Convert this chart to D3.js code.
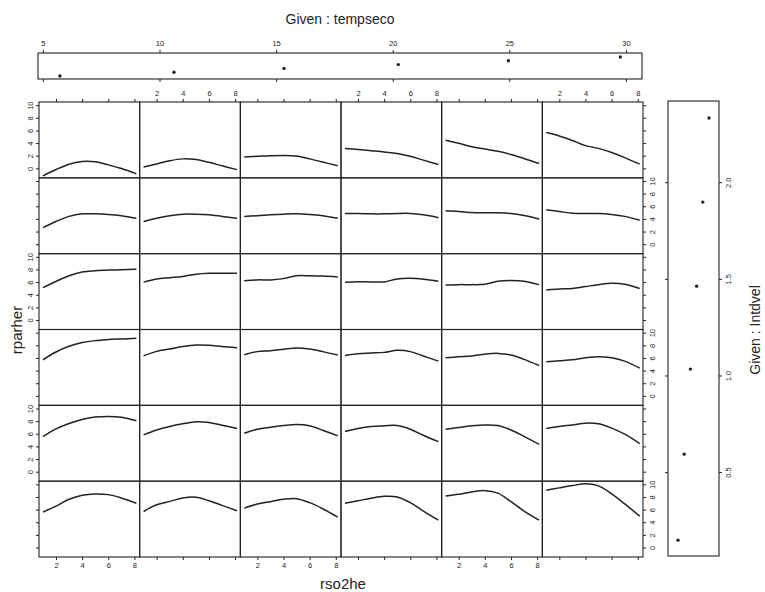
<!DOCTYPE html>
<html>
<head>
<meta charset="utf-8">
<script src="https://cdn.jsdelivr.net/npm/d3@7"></script>
<style>
  body { margin: 0; background: #fff; }
  text { font-family: "Liberation Sans", Arial, sans-serif; fill: #222; }
</style>
</head>
<body>
<div id="chart"></div>
<script>
// x positions (rso2he) where each smooth curve was read
var xSamples = [1, 2, 3, 4, 5, 6, 7, 8.15];

// given intervals (centres)
var tempseco = [5.73, 10.62, 15.34, 20.24, 24.96, 29.76];
var intdvel = [0.148, 0.593, 1.033, 1.462, 1.897, 2.332];

// rparher curves, one row per Intdvel level (top row = highest), columns = tempseco low -> high
var row1 = [
  [-1.2, -0.19, 0.66, 1.08, 1.03, 0.55, -0.03, -0.88],
  [0.2, 0.7, 1.2, 1.5, 1.4, 0.95, 0.4, -0.2],
  [1.8, 1.9, 2.0, 2.05, 1.95, 1.5, 1.0, 0.4],
  [3.16, 3.0, 2.8, 2.6, 2.35, 1.9, 1.3, 0.6],
  [4.44, 3.96, 3.43, 3.05, 2.7, 2.2, 1.56, 0.77],
  [5.66, 5.13, 4.4, 3.6, 3.16, 2.5, 1.7, 0.66]
];
var row2 = [
  [2.63, 3.6, 4.4, 4.8, 4.8, 4.7, 4.5, 4.1],
  [3.6, 4.1, 4.5, 4.75, 4.75, 4.65, 4.4, 4.1],
  [4.4, 4.5, 4.65, 4.75, 4.8, 4.7, 4.5, 4.1],
  [4.86, 4.86, 4.8, 4.8, 4.86, 4.86, 4.65, 4.2],
  [5.29, 5.18, 5.0, 4.97, 4.97, 4.86, 4.54, 4.0],
  [5.45, 5.18, 4.9, 4.86, 4.86, 4.7, 4.4, 3.8]
];
var row3 = [
  [5.13, 6.1, 7.0, 7.6, 7.8, 7.9, 7.95, 8.05],
  [6.0, 6.5, 6.7, 6.9, 7.25, 7.4, 7.4, 7.4],
  [6.2, 6.35, 6.35, 6.55, 7.0, 7.0, 6.95, 6.8],
  [5.98, 6.05, 6.03, 6.03, 6.5, 6.6, 6.46, 6.14],
  [5.55, 5.6, 5.6, 5.66, 6.14, 6.25, 6.14, 5.6],
  [4.76, 4.9, 5.0, 5.3, 5.6, 5.8, 5.66, 5.0]
];
var row4 = [
  [5.7, 6.94, 7.84, 8.43, 8.74, 8.9, 9.0, 9.1],
  [6.35, 7.04, 7.4, 7.8, 8.05, 8.0, 7.8, 7.6],
  [6.5, 7.0, 7.15, 7.36, 7.57, 7.4, 7.0, 6.46],
  [6.4, 6.67, 6.78, 6.88, 7.2, 7.0, 6.3, 5.5],
  [6.03, 6.2, 6.3, 6.6, 6.72, 6.46, 5.77, 4.8],
  [5.4, 5.55, 5.7, 6.03, 6.2, 6.03, 5.5, 4.38]
];
var row5 = [
  [5.55, 6.78, 7.63, 8.27, 8.64, 8.74, 8.6, 8.05],
  [5.82, 6.6, 7.15, 7.57, 7.9, 7.8, 7.36, 6.83],
  [6.08, 6.72, 7.04, 7.3, 7.47, 7.26, 6.56, 5.66],
  [6.35, 6.83, 7.15, 7.26, 7.3, 6.72, 5.77, 4.75],
  [6.7, 7.0, 7.26, 7.4, 7.3, 6.6, 5.6, 4.33],
  [6.83, 7.15, 7.4, 7.68, 7.57, 6.9, 5.93, 4.44]
];
var row6 = [
  [5.6, 6.56, 7.63, 8.27, 8.48, 8.37, 7.84, 7.0],
  [5.7, 6.78, 7.3, 7.84, 7.95, 7.4, 6.67, 5.82],
  [6.24, 6.88, 7.26, 7.63, 7.73, 7.1, 6.14, 4.8],
  [7.0, 7.4, 7.8, 8.1, 8.0, 7.1, 5.77, 4.33],
  [8.16, 8.43, 8.8, 9.0, 8.6, 7.26, 5.77, 4.33],
  [9.06, 9.44, 9.8, 10.1, 9.76, 8.5, 6.9, 4.97]
];

var xTicks = [2, 4, 6, 8];
var yTicks = [0, 2, 4, 6, 8, 10];
var tempTicks = [5, 10, 15, 20, 25, 30];
var velTicks = [0.5, 1.0, 1.5, 2.0];

var rows = [row1, row2, row3, row4, row5, row6];

var svg = d3.select("#chart").append("svg")
  .attr("width", 765)
  .attr("height", 592);

// grid of panels
var gridX = d3.scaleBand().domain(d3.range(6)).range([39, 643]);
var gridY = d3.scaleBand().domain(d3.range(6)).range([102, 557]);

var x = d3.scaleLinear().domain([0.7, 8.4]).range([0, gridX.bandwidth()]);
var y = d3.scaleLinear().domain([-1.5, 10.5]).range([gridY.bandwidth(), 0]);

var line = d3.line()
  .x((d, i) => x(xSamples[i]))
  .y(d => y(d))
  .curve(d3.curveCatmullRom.alpha(0.5));

function styleAxis(g) {
  g.select(".domain").remove();
  g.selectAll("line").attr("stroke", "#222");
  g.selectAll("text")
    .attr("fill", "#333")
    .style("font-size", "7.5px")
    .style("font-family", "'Liberation Sans', Arial, sans-serif");
}

// rotate y tick labels so they run along the axis
function rotateLabels(g, side) {
  g.selectAll("text")
    .attr("transform", "rotate(-90)")
    .attr("text-anchor", "middle")
    .attr("x", 0)
    .attr("dy", 0)
    .attr("y", side == "left" ? -6 : 12);
}

rows.forEach(function(row, r) {
  row.forEach(function(vals, c) {
    var panel = svg.append("g")
      .attr("transform", `translate(${gridX(c)}, ${gridY(r)})`);

    panel.append("rect")
      .attr("width", gridX.bandwidth())
      .attr("height", gridY.bandwidth())
      .attr("fill", "none")
      .attr("stroke", "#222")
      .attr("stroke-width", 1.1);

    panel.append("path")
      .datum(vals)
      .attr("d", line)
      .attr("fill", "none")
      .attr("stroke", "#222")
      .attr("stroke-width", 1.5);

    // x axes on top and bottom rows, labels alternate
    if (r == 0) {
      var gt = panel.append("g")
        .call(d3.axisTop(x).tickValues(xTicks).tickSize(3).tickPadding(3)
          .tickFormat(c % 2 == 1 ? d3.format("d") : ""));
      styleAxis(gt);
    }
    if (r == 5) {
      var gb = panel.append("g")
        .attr("transform", `translate(0, ${gridY.bandwidth()})`)
        .call(d3.axisBottom(x).tickValues(xTicks).tickSize(3).tickPadding(3)
          .tickFormat(c % 2 == 0 ? d3.format("d") : ""));
      styleAxis(gb);
    }
    // y axes on left and right columns, labels alternate
    if (c == 0) {
      var gl = panel.append("g")
        .call(d3.axisLeft(y).tickValues(yTicks).tickSize(3)
          .tickFormat(r % 2 == 0 ? d3.format("d") : ""));
      styleAxis(gl);
      rotateLabels(gl, "left");
    }
    if (c == 5) {
      var gr = panel.append("g")
        .attr("transform", `translate(${gridX.bandwidth()}, 0)`)
        .call(d3.axisRight(y).tickValues(yTicks).tickSize(3)
          .tickFormat(r % 2 == 1 ? d3.format("d") : ""));
      styleAxis(gr);
      rotateLabels(gr, "right");
    }
  });
});

// given panel: tempseco (top)
var topPanel = { x0: 38, x1: 642, y0: 53, y1: 79 };
var tx = d3.scaleLinear().domain([4.79, 30.69]).range([topPanel.x0, topPanel.x1]);
var tStep = d3.scalePoint().domain(d3.range(tempseco.length)).range([76, 57]);

svg.append("rect")
  .attr("x", topPanel.x0)
  .attr("y", topPanel.y0)
  .attr("width", topPanel.x1 - topPanel.x0)
  .attr("height", topPanel.y1 - topPanel.y0)
  .attr("fill", "none")
  .attr("stroke", "#222")
  .attr("stroke-width", 1.1);

var tAxisTop = svg.append("g")
  .attr("transform", `translate(0, ${topPanel.y0})`)
  .call(d3.axisTop(tx).tickValues(tempTicks).tickSize(3).tickPadding(4));
styleAxis(tAxisTop);

var tAxisBottom = svg.append("g")
  .attr("transform", `translate(0, ${topPanel.y1})`)
  .call(d3.axisBottom(tx).tickValues(tempTicks).tickSize(3).tickFormat(""));
styleAxis(tAxisBottom);

svg.selectAll(".tdot")
  .data(tempseco)
  .enter()
  .append("circle")
  .attr("class", "tdot")
  .attr("cx", d => tx(d))
  .attr("cy", (d, i) => tStep(i))
  .attr("r", 1.7)
  .attr("fill", "#222");

// given panel: Intdvel (right)
var sidePanel = { x0: 668, x1: 719, y0: 101, y1: 556 };
var vy = d3.scaleLinear().domain([0.066, 2.42]).range([sidePanel.y1, sidePanel.y0]);
var vStep = d3.scalePoint().domain(d3.range(intdvel.length)).range([678, 709]);

svg.append("rect")
  .attr("x", sidePanel.x0)
  .attr("y", sidePanel.y0)
  .attr("width", sidePanel.x1 - sidePanel.x0)
  .attr("height", sidePanel.y1 - sidePanel.y0)
  .attr("fill", "none")
  .attr("stroke", "#222")
  .attr("stroke-width", 1.1);

var vAxisRight = svg.append("g")
  .attr("transform", `translate(${sidePanel.x1}, 0)`)
  .call(d3.axisRight(vy).tickValues(velTicks).tickSize(3).tickFormat(d3.format(".1f")));
styleAxis(vAxisRight);
rotateLabels(vAxisRight, "right");

var vAxisLeft = svg.append("g")
  .attr("transform", `translate(${sidePanel.x0}, 0)`)
  .call(d3.axisLeft(vy).tickValues(velTicks).tickSize(3).tickFormat(""));
styleAxis(vAxisLeft);

svg.selectAll(".vdot")
  .data(intdvel)
  .enter()
  .append("circle")
  .attr("class", "vdot")
  .attr("cx", (d, i) => vStep(i))
  .attr("cy", d => vy(d))
  .attr("r", 1.7)
  .attr("fill", "#222");

// titles
svg.append("text")
  .attr("x", 340)
  .attr("y", 24)
  .attr("text-anchor", "middle")
  .style("font-size", "14px")
  .text("Given : tempseco");

svg.append("text")
  .attr("transform", "translate(760, 330) rotate(-90)")
  .attr("text-anchor", "middle")
  .style("font-size", "14px")
  .text("Given : Intdvel");

svg.append("text")
  .attr("transform", "translate(22, 330) rotate(-90)")
  .attr("text-anchor", "middle")
  .style("font-size", "15px")
  .text("rparher");

svg.append("text")
  .attr("x", 343)
  .attr("y", 589)
  .attr("text-anchor", "middle")
  .style("font-size", "15px")
  .text("rso2he");
</script>
</body>
</html>
